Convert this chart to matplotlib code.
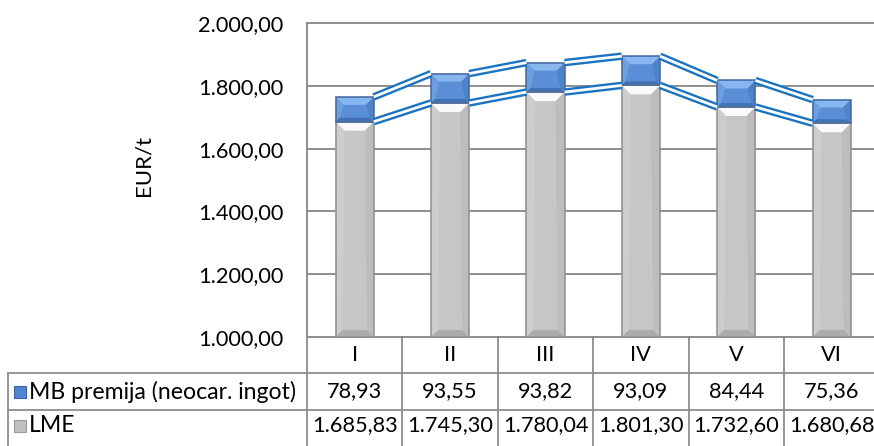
import matplotlib
matplotlib.use("Agg")
import matplotlib.pyplot as plt
from matplotlib.patches import Polygon, Rectangle
import matplotlib.transforms as mtransforms

categories = ["I", "II", "III", "IV", "V", "VI"]
lme = [1685.83, 1745.30, 1780.04, 1801.30, 1732.60, 1680.68]
premija = [78.93, 93.55, 93.82, 93.09, 84.44, 75.36]
series_names = ["MB premija (neocar. ingot)", "LME"]
yticks = [1000, 1200, 1400, 1600, 1800, 2000]

def fmt(v):
    s = f"{v:,.2f}"
    return s.replace(",", "X").replace(".", ",").replace("X", ".")

W, H = 874, 446
plt.rcParams['font.family'] = ['Lato', 'DejaVu Sans']
fig = plt.figure(figsize=(W / 100, H / 100), dpi=100)

ax_l, ax_r, ax_t, ax_b = 307, 879.4, 23, 337
ax = fig.add_axes([ax_l / W, 1 - ax_b / H, (ax_r - ax_l) / W, (ax_b - ax_t) / H])
ax.set_xlim(-0.5, len(categories) - 0.5)
ax.set_ylim(1000, 2000)
grid_c = '#868686'
ax.spines['right'].set_visible(False)
for s in ['left', 'top', 'bottom']:
    ax.spines[s].set_color(grid_c)
    ax.spines[s].set_linewidth(1.3)
ax.set_yticks(yticks)
ax.set_yticklabels([fmt(v) for v in yticks], fontsize=15.7)
ax.tick_params(axis='y', length=0, pad=17)
ax.set_xticks([])
for v in yticks[1:-1]:
    ax.axhline(v, color=grid_c, lw=1.3, zorder=1)

fig.text(143 / W, 1 - 166 / H, "EUR/t", rotation=90, ha='center', va='center', fontsize=16)

bw = 0.4
px_x = (len(categories)) / (ax_r - ax_l)
px_y = 1000 / (ax_b - ax_t)

def bevel_bar(x, y0, y1, base, top_c, left_c, right_c, bot_c, edge, bev=6, bevb=6):
    x0, x1 = x - bw / 2, x + bw / 2
    bx = bev * px_x
    by = min(bev * px_y, (y1 - y0) / 3)
    bb = min(bevb * px_y, (y1 - y0) / 4)
    bxb = bevb * px_x
    ax.add_patch(Rectangle((x0, y0), bw, y1 - y0, facecolor=base, edgecolor='none', zorder=3))
    polys = [
        ([(x0, y0), (x0, y1), (x0 + bx, y1 - by), (x0 + bxb, y0 + bb)], left_c),
        ([(x1, y0), (x1, y1), (x1 - bx, y1 - by), (x1 - bxb, y0 + bb)], right_c),
        ([(x0, y1), (x1, y1), (x1 - bx, y1 - by), (x0 + bx, y1 - by)], top_c),
        ([(x0, y0), (x1, y0), (x1 - bxb, y0 + bb), (x0 + bxb, y0 + bb)], bot_c),
    ]
    for pts, c in polys:
        ax.add_patch(Polygon(pts, closed=True, facecolor=c, edgecolor='none', zorder=3))
    ax.add_patch(Rectangle((x0, y0), bw, y1 - y0, facecolor='none', edgecolor=edge, lw=1.1, zorder=4))

for i, (l, p) in enumerate(zip(lme, premija)):
    bevel_bar(i, 1000, l, '#c6c6c6', '#fafafa', '#cdcdcd', '#bdbdbd', '#acacac', '#8e8e8e', bev=9, bevb=7)
    bevel_bar(i, l, l + p, '#5a8ed6', '#88b6ee', '#6d9fe0', '#4f83c9', '#4272b4', '#43689c', bev=8, bevb=4)

line_c = '#1a74c2'
tops_lme = lme
tops_tot = [l + p for l, p in zip(lme, premija)]
for tops in (tops_lme, tops_tot):
    for i in range(len(categories) - 1):
        xs = [i + bw / 2, i + 1 - bw / 2]
        ys = [tops[i], tops[i + 1]]
        ax.plot(xs, ys, color=line_c, lw=5.4, solid_capstyle='butt', zorder=5)
        ax.plot(xs, ys, color='white', lw=2.0, solid_capstyle='butt', zorder=6)

# data table
tc = '#8c8c8c'
blend = mtransforms.blended_transform_factory(ax.transData, fig.transFigure)
def fy(p):
    return 1 - p / H
row_y = [ax_b, 373, 410, 447]
for yy in row_y[1:]:
    fig.add_artist(plt.Line2D([8 / W, 1.0], [fy(yy), fy(yy)], color=tc, lw=1.3))
fig.add_artist(plt.Line2D([8 / W, 8 / W], [fy(row_y[1]), fy(row_y[3])], color=tc, lw=1.3))
fig.add_artist(plt.Line2D([ax_l / W, ax_l / W], [fy(row_y[0]), fy(row_y[3])], color=tc, lw=1.3))
for i in range(len(categories)):
    xb = i + 0.5
    ax.add_artist(plt.Line2D([xb, xb], [fy(row_y[0]), fy(row_y[3])], color=tc, lw=1.3,
                             transform=blend, clip_on=False))

fs = 15.7
for i, c in enumerate(categories):
    ax.text(i, fy((row_y[0] + row_y[1]) / 2), c, transform=blend, ha='center', va='center', fontsize=fs, clip_on=False)
    ax.text(i, fy((row_y[1] + row_y[2]) / 2), fmt(premija[i]), transform=blend, ha='center', va='center', fontsize=fs, clip_on=False)
    ax.text(i, fy((row_y[2] + row_y[3]) / 2 - 3), fmt(lme[i]), transform=blend, ha='center', va='center', fontsize=fs, clip_on=False)

for name, yc, fc, ec in [(series_names[0], (row_y[1] + row_y[2]) / 2, '#4f86cf', '#3a66a4'),
                         (series_names[1], (row_y[2] + row_y[3]) / 2 - 3, '#c0c0c0', '#9a9a9a')]:
    fig.add_artist(Rectangle((14 / W, fy(yc + 6)), 12 / W, 12 / H, facecolor=fc, edgecolor=ec, lw=0.8,
                             transform=fig.transFigure))
    fig.text(29 / W, fy(yc), name, ha='left', va='center', fontsize=16.6)

fig.savefig("out.png", dpi=100)
